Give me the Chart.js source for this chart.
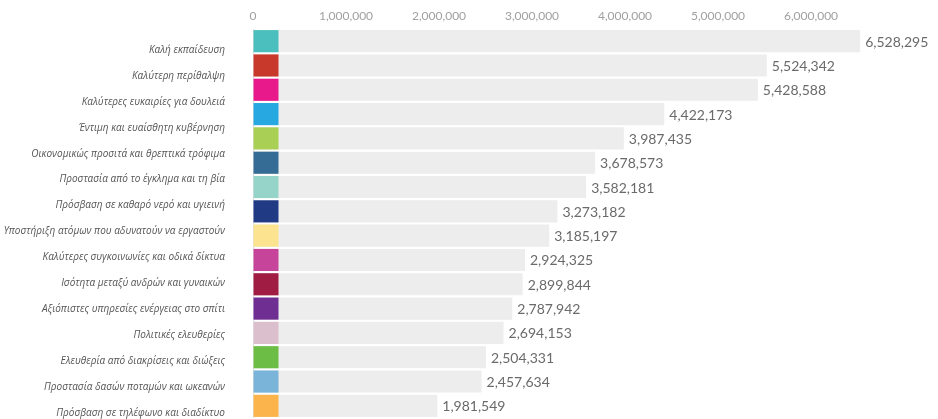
<!DOCTYPE html>
<html>
<head>
<meta charset="utf-8">
<script src="https://cdn.jsdelivr.net/npm/chart.js@4.4.1/dist/chart.umd.min.js"></script>
<style>
  html, body { margin: 0; padding: 0; background: #fff; }
  canvas { display: block; }
</style>
</head>
<body>
<canvas id="myChart" width="938" height="419"></canvas>
<script>
'use strict';

// Labels shown on the left (15 of them, the picture shows 15 names for 16 bars)
let categories = [
  'Καλή εκπαίδευση',
  'Καλύτερη περίθαλψη',
  'Καλύτερες ευκαιρίες για δουλειά',
  'Έντιμη και ευαίσθητη κυβέρνηση',
  'Οικονομικώς προσιτά και θρεπτικά τρόφιμα',
  'Προστασία από το έγκλημα και τη βία',
  'Πρόσβαση σε καθαρό νερό και υγιεινή',
  'Υποστήριξη ατόμων που αδυνατούν να εργαστούν',
  'Καλύτερες συγκοινωνίες και οδικά δίκτυα',
  'Ισότητα μεταξύ ανδρών και γυναικών',
  'Αξιόπιστες υπηρεσίες ενέργειας στο σπίτι',
  'Πολιτικές ελευθερίες',
  'Ελευθερία από διακρίσεις και διώξεις',
  'Προστασία δασών ποταμών και ωκεανών',
  'Πρόσβαση σε τηλέφωνο και διαδίκτυο'
];

// one row per bar
let barRows = ['1', '2', '3', '4', '5', '6', '7', '8', '9', '10', '11', '12', '13', '14', '15', '16'];
let votes = [
  6528295, 5524342, 5428588, 4422173, 3987435, 3678573, 3582181,
  3273182, 3185197, 2924325, 2899844, 2787942, 2694153, 2504331,
  2457634, 1981549
];
let markerColors = [
  '#4bbfbd', '#c8392b', '#e8198b', '#28a8e0', '#a9cf54', '#346c95',
  '#96d3c8', '#203a84', '#fbe38f', '#c7449b', '#a01c43', '#6f2e91',
  '#dcbfcd', '#6cbd45', '#7ab4d9', '#fbb44b'
];
let tickStep = 1000000;
let lastTick = 6000000;
let axisMax = 7000000;


// draws the coloured square at the start of each bar and the value after it
let barDecor = {
  id: 'barDecor',
  afterDraw(chart) {
    let ctx = chart.ctx;
    let meta = chart.getDatasetMeta(0);
    ctx.save();
    meta.data.forEach(function(bar, i) {
      let top = bar.y - bar.height / 2;
      ctx.fillStyle = markerColors[i];
      ctx.fillRect(bar.base, top, 25, bar.height);

      ctx.fillStyle = '#6a6a6a';
      ctx.font = '14px Lato';
      ctx.textAlign = 'left';
      ctx.textBaseline = 'middle';
      ctx.fillText(votes[i].toLocaleString('en-US'), bar.x + 5, bar.y + 1);
    });
    ctx.restore();
  }
};


let chartObject = {
  type: 'bar',
  data: {
    labels: barRows,
    datasets: [{
      data: votes,
      backgroundColor: '#ededed',
      borderWidth: 0,
      barPercentage: 0.91,
      categoryPercentage: 1
    }]
  },
  options: {
    indexAxis: 'y',
    responsive: false,
    animation: false,
    layout: {
      padding: { top: 0, right: 34, bottom: 1, left: 0 }
    },
    plugins: {
      legend: { display: false },
      tooltip: { enabled: false }
    },
    scales: {
      x: {
        position: 'top',
        min: 0,
        max: axisMax,
        z: 1,
        grid: {
          color: function(c) { return c.index === 0 ? '#dcdcdc' : '#ffffff'; },
          lineWidth: 1,
          drawTicks: false
        },
        border: { display: false },
        ticks: {
          stepSize: tickStep,
          padding: 6,
          color: '#a0a0a0',
          font: { family: 'Lato', size: 12 },
          callback: function(v) { return v > lastTick ? '' : v.toLocaleString('en-US'); }
        },
        afterFit: function(scale) { scale.height = 29; }
      },
      y: {
        display: false,
        grid: { display: false }
      },
      yNames: {
        type: 'category',
        labels: categories,
        position: 'left',
        offset: true,
        grid: { display: false, drawTicks: false },
        border: { display: false },
        ticks: {
          padding: 28,
          labelOffset: 8,
          color: '#555',
          font: { family: 'Open Sans', size: 10, style: 'italic' }
        },
        afterFit: function(scale) {
          scale.width = 253;
          scale.paddingTop = 0;
          scale.paddingBottom = 0;
        }
      }
    }
  },
  plugins: [barDecor]
};

let ctx = document.getElementById('myChart').getContext('2d');
let myChart = new Chart(ctx, chartObject);
</script>
</body>
</html>
